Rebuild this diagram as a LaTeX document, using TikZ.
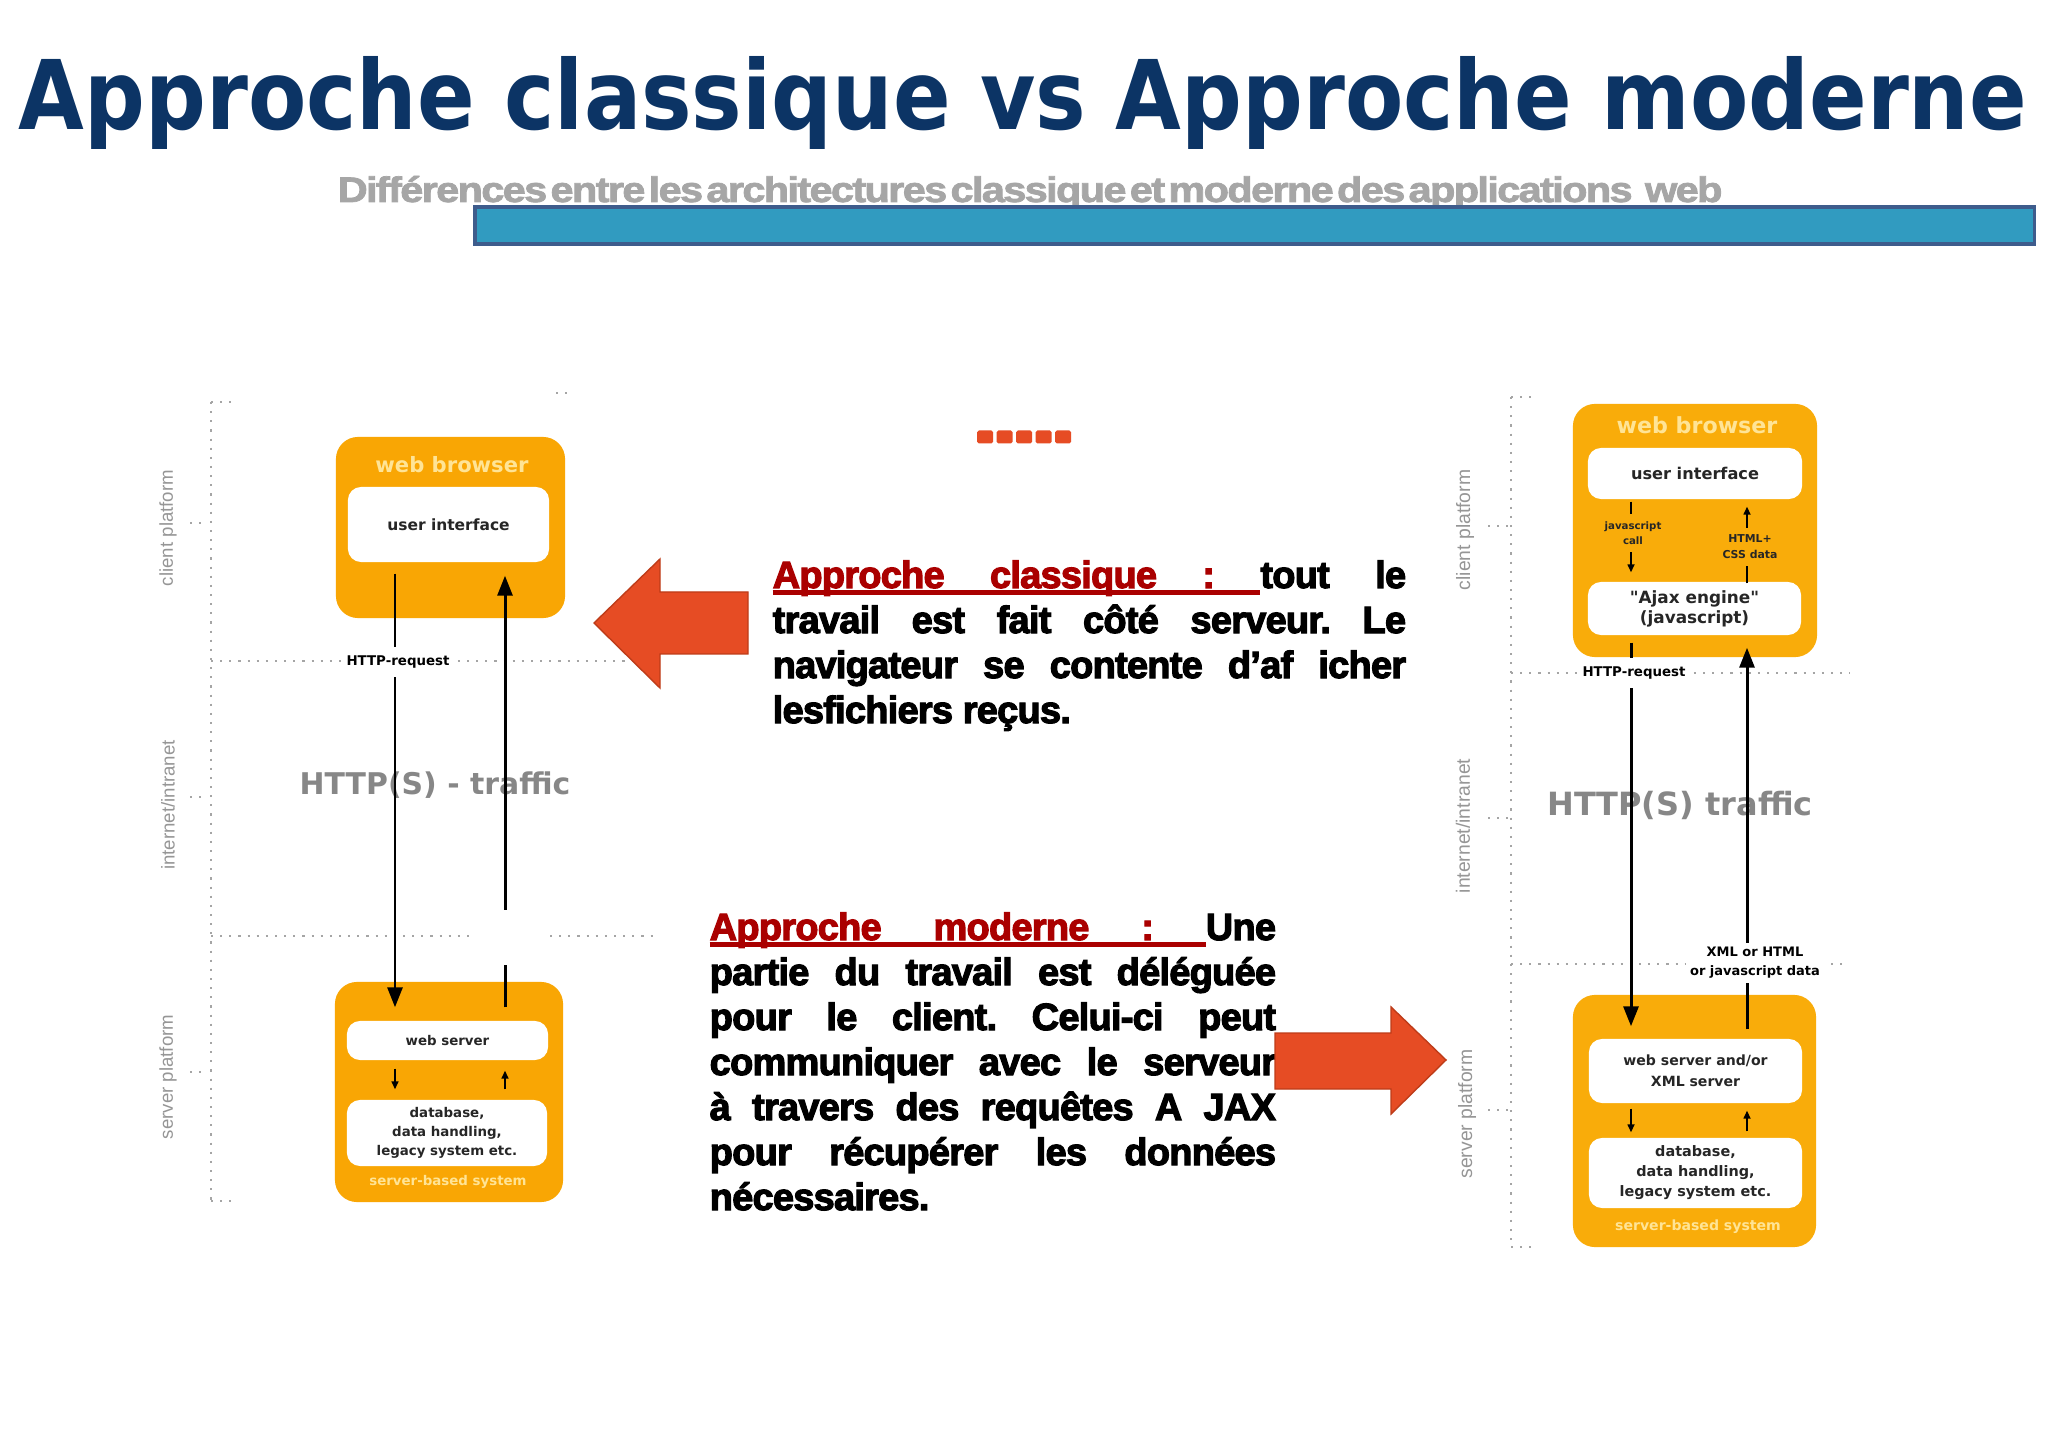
\documentclass[tikz,border=0pt]{standalone}
\usepackage{fontspec}
\usepackage{graphicx}
\setmainfont{DejaVu Sans}
\newfontfamily\titlefont{DejaVu Sans}
\newfontfamily\arialfont{Liberation Sans}
\newfontfamily\subfont{Liberation Sans}[LetterSpace=-4, BoldFeatures={FakeBold=2}]
\newfontfamily\bodyfont{Liberation Sans}[LetterSpace=-2, BoldFeatures={FakeBold=3}]
\usetikzlibrary{arrows.meta}

\definecolor{navy}{RGB}{12,52,101}
\definecolor{subgray}{RGB}{166,166,166}
\definecolor{barblue}{RGB}{49,155,192}
\definecolor{barrim}{RGB}{62,92,140}
\definecolor{boxorange}{RGB}{249,166,4}
\definecolor{boxorangeR}{RGB}{249,172,10}
\definecolor{paleyellow}{RGB}{255,228,150}
\definecolor{arrowred}{RGB}{230,76,36}
\definecolor{arrowrim}{RGB}{190,60,25}
\definecolor{darkred}{RGB}{170,0,0}
\definecolor{dotgray}{RGB}{165,165,165}
\definecolor{lblgray}{RGB}{150,150,150}
\definecolor{trafgray}{RGB}{135,135,135}

% straight double quote, kept out of the tex-text mapping
\newcommand{\sq}{\XeTeXglyph\XeTeXcharglyph"22\relax}
% underlined words and stretchable underlined spaces
\newcommand{\ulsp}{\leaders\vrule height -0.6pt depth 2pt\hfill}
\newcommand{\ulw}[1]{\setbox0\hbox{#1}\rlap{\vrule height -0.6pt depth 2pt width \wd0}\box0}
\newcommand{\bodytext}{\bodyfont\bfseries\fontsize{10.8}{12.8}\selectfont\frenchspacing
  \tolerance=10000 \hyphenpenalty=10000 \exhyphenpenalty=10000 }

\begin{document}
\begin{tikzpicture}[x=0.01cm, y=-0.01cm,
    plat/.style={fill=boxorange, rounded corners=0.22cm, inner sep=0pt},
    inbox/.style={fill=white, rounded corners=0.13cm, inner sep=0pt, align=center, text=black!85, font=\bfseries\fontsize{4.4}{5.4}\selectfont},
    tag/.style={text=paleyellow, inner sep=0pt, font=\bfseries\fontsize{6}{7}\selectfont},
    side/.style={rotate=90, text=lblgray, inner sep=0pt, font=\arialfont\fontsize{5.3}{6}\selectfont},
    dots/.style={draw=dotgray, line width=0.7pt, dash pattern=on 0.6pt off 2pt},
    bigarr/.style={line width=0.85pt, -{Triangle[length=0.2cm, width=0.15cm]}},
    bigline/.style={line width=0.85pt},
    smallarr/.style={line width=0.45pt, -{Triangle[length=0.08cm, width=0.07cm]}},
    msg/.style={fill=white, inner xsep=1.2pt, inner ysep=2.6pt, align=center, font=\bfseries\fontsize{3.8}{4.6}\selectfont},
    inlbl/.style={inner xsep=0.5pt, inner ysep=2pt, align=center, text=black!85, font=\bfseries\fontsize{2.9}{4.3}\selectfont},
    traffic/.style={text=trafgray, inner sep=0pt, font=\bfseries\fontsize{8.5}{9}\selectfont},
    txt/.style={inner sep=0pt, align=justify, anchor=base west, font=\bodytext},
    rarrow/.style={fill=arrowred, draw=arrowrim, line width=0.4pt}
]
\useasboundingbox (0,0) rectangle (2048,1431);
\fill[white] (0,0) rectangle (2048,1431);

% title and banner
\node[anchor=base west, inner sep=0pt, text=navy] (title) at (18,130)
  {\resizebox{20.07cm}{0.73cm}{\titlefont\bfseries\fontsize{30}{34}\selectfont Approche classique vs Approche moderne}};
\node[anchor=base west, inner sep=0pt, text=subgray] (sub) at (337,202)
  {\resizebox{13.84cm}{0.26cm}{\subfont\bfseries\fontsize{20}{24}\selectfont\spaceskip=0.08em Différences entre les architectures classique et moderne des applications\hspace{0.3em}web}};
\node[fill=barblue, draw=barrim, line width=1pt, minimum width=15.59cm, minimum height=0.37cm, inner sep=0pt, anchor=north west] (bar) at (473,205) {};

% classic diagram
\draw[dots] (211,402) -- (211,1201);
\draw[dots] (211,402) -- (232,402);
\draw[dots] (211,1201) -- (232,1201);
\draw[dots] (556,393) -- (568,393);
\draw[dots] (190,523) -- (207,523);
\draw[dots] (190,797) -- (207,797);
\draw[dots] (190,1072) -- (207,1072);
\draw[dots] (211,661) -- (655,661);
\draw[dots] (211,936) -- (470,936);
\draw[dots] (550,936) -- (655,936);

\node[side] (cpL) at (168,528) {client platform};
\node[side] (inL) at (168,805) {internet/intranet};
\node[side] (spL) at (168,1077) {server platform};

\node[plat, minimum width=2.29cm, minimum height=1.81cm] (brL) at (450.5,527.5) {};
\node[tag] (brLt) at (452,465) {web browser};
\node[inbox, minimum width=2.01cm, minimum height=0.75cm] (uiL) at (448.5,524.5) {user interface};

\node[plat, minimum width=2.28cm, minimum height=2.20cm] (svL) at (449,1092) {};
\node[inbox, font=\bfseries\fontsize{3.8}{5.4}\selectfont, minimum width=2.01cm, minimum height=0.39cm] (wsL) at (447.5,1040.5) {web server};
\node[inbox, font=\bfseries\fontsize{3.8}{5.4}\selectfont, minimum width=2.0cm, minimum height=0.66cm] (dbL) at (447,1133) {database,\\data handling,\\legacy system etc.};
\node[tag, font=\bfseries\fontsize{3.8}{4.5}\selectfont] (svLt) at (448,1182) {server-based system};

\node[traffic] (trL) at (435,785) {HTTP(S) - traffic};

\coordinate (lq) at (395,0);
\coordinate (lr) at (505,0);
\coordinate (gapLt) at (0,910);
\coordinate (gapLb) at (0,965);
\draw[bigarr, shorten <=0.11cm, shorten >=0.13cm] (uiL.south -| lq) -- (wsL.north -| lq);
\draw[bigline, shorten <=0.13cm] (wsL.north -| lr) -- (lr |- gapLb);
\draw[bigarr, shorten >=0.13cm] (lr |- gapLt) -- (uiL.south -| lr);
\draw[smallarr, shorten <=0.08cm, shorten >=0.10cm] (wsL.south -| lq) -- (dbL.north -| lq);
\draw[smallarr, shorten <=0.10cm, shorten >=0.10cm] (dbL.north -| lr) -- (wsL.south -| lr);
\node[msg] (rqL) at (398,662) {HTTP-request};

% modern diagram
\draw[dots] (1511,397) -- (1511,1247);
\draw[dots] (1511,397) -- (1533,397);
\draw[dots] (1511,1247) -- (1533,1247);
\draw[dots] (1488,526) -- (1510,526);
\draw[dots] (1488,818) -- (1510,818);
\draw[dots] (1488,1110) -- (1510,1110);
\draw[dots] (1511,673) -- (1850,673);
\draw[dots] (1511,964) -- (1848,964);

\node[side, font=\arialfont\fontsize{5.5}{6}\selectfont] (cpR) at (1465,530) {client platform};
\node[side, font=\arialfont\fontsize{5.5}{6}\selectfont] (inR) at (1463,826) {internet/intranet};
\node[side, font=\arialfont\fontsize{5.5}{6}\selectfont] (spR) at (1467,1114) {server platform};

\node[plat, fill=boxorangeR, minimum width=2.44cm, minimum height=2.53cm] (brR) at (1695,530.5) {};
\node[tag, font=\bfseries\fontsize{6.3}{7}\selectfont] (brRt) at (1697,425) {web browser};
\node[inbox, font=\bfseries\fontsize{4.6}{5.5}\selectfont, minimum width=2.14cm, minimum height=0.51cm] (uiR) at (1695,473.5) {user interface};
\node[inbox, font=\bfseries\fontsize{4.8}{5.7}\selectfont, minimum width=2.13cm, minimum height=0.53cm] (ajR) at (1694.5,608.5) {\sq Ajax engine\sq\\(javascript)};

\node[plat, fill=boxorangeR, minimum width=2.43cm, minimum height=2.52cm] (svR) at (1694.5,1121) {};
\node[inbox, font=\bfseries\fontsize{4}{6}\selectfont, minimum width=2.13cm, minimum height=0.64cm] (wsR) at (1695.5,1071) {web server and/or\\XML server};
\node[inbox, font=\bfseries\fontsize{4.1}{5.7}\selectfont, minimum width=2.13cm, minimum height=0.70cm] (dbR) at (1695.5,1173) {database,\\data handling,\\legacy system etc.};
\node[tag, font=\bfseries\fontsize{4}{4.8}\selectfont] (svRt) at (1698,1227) {server-based system};

\node[traffic, font=\bfseries\fontsize{9.1}{10}\selectfont] (trR) at (1680,805) {HTTP(S) traffic};

\coordinate (rq) at (1631,0);
\coordinate (rr) at (1747,0);
\draw[smallarr, shorten <=0.02cm, shorten >=0.09cm] (uiR.south -| rq) -- (ajR.north -| rq);
\draw[smallarr, shorten <=-0.02cm, shorten >=0.07cm] (ajR.north -| rr) -- (uiR.south -| rr);
\node[inlbl, fill=boxorangeR] (jsR) at (1633,533) {javascript\\call};
\node[inlbl, fill=boxorangeR, font=\bfseries\fontsize{3.1}{4.5}\selectfont] (cssR) at (1750,547) {HTML+\\CSS data};

\draw[bigarr, shorten <=0.07cm, shorten >=0.12cm] (ajR.south -| rq) -- (wsR.north -| rq);
\draw[bigarr, shorten <=0.09cm, shorten >=0.12cm] (wsR.north -| rr) -- (ajR.south -| rr);
\draw[smallarr, shorten <=0.05cm, shorten >=0.05cm] (wsR.south -| rq) -- (dbR.north -| rq);
\draw[smallarr, shorten <=0.06cm, shorten >=0.07cm] (dbR.north -| rr) -- (wsR.south -| rr);
\node[msg, font=\bfseries\fontsize{3.8}{4.6}\selectfont] (rqR) at (1634,673) {HTTP-request};
\node[msg, inner ysep=1.2pt, font=\bfseries\fontsize{3.7}{5.4}\selectfont] (xmlR) at (1755,963) {XML or HTML\\or javascript data};

% texts in the middle
\foreach \i in {0,...,4}
  \node[fill=arrowred, rounded corners=0.5pt, minimum width=0.16cm, minimum height=0.13cm, inner sep=0pt] (sq\i) at (985+19.5*\i,437) {};

\node[txt, text width=6.33cm] (classique) at (772,588)
  {\hbox to \linewidth{\color{darkred}\ulw{Approche}\ulsp\ulw{classique}\ulsp\ulw{:}\ulsp\color{black}tout\hfill le}\par
   travail est fait côté serveur. Le\linebreak
   navigateur se contente d’af icher\linebreak
   lesfichiers reçus.};
\node[txt, text width=5.66cm] (moderne) at (709,940)
  {\hbox to \linewidth{\color{darkred}\ulw{Approche}\ulsp\ulw{moderne}\ulsp\ulw{:}\ulsp\color{black}Une}\par
   partie du travail est déléguée\linebreak
   pour le client. Celui-ci peut\linebreak
   communiquer avec le serveur\linebreak
   à travers des requêtes A JAX\linebreak
   pour récupérer les données\linebreak
   nécessaires.};

\filldraw[rarrow] (594,623) -- (660,559) -- (660,592) -- (748,592) -- (748,654) -- (660,654) -- (660,688) -- cycle;
\filldraw[rarrow] (1275,1033) -- (1391,1033) -- (1391,1007) -- (1446,1060) -- (1391,1114) -- (1391,1089) -- (1275,1089) -- cycle;
\end{tikzpicture}
\end{document}
